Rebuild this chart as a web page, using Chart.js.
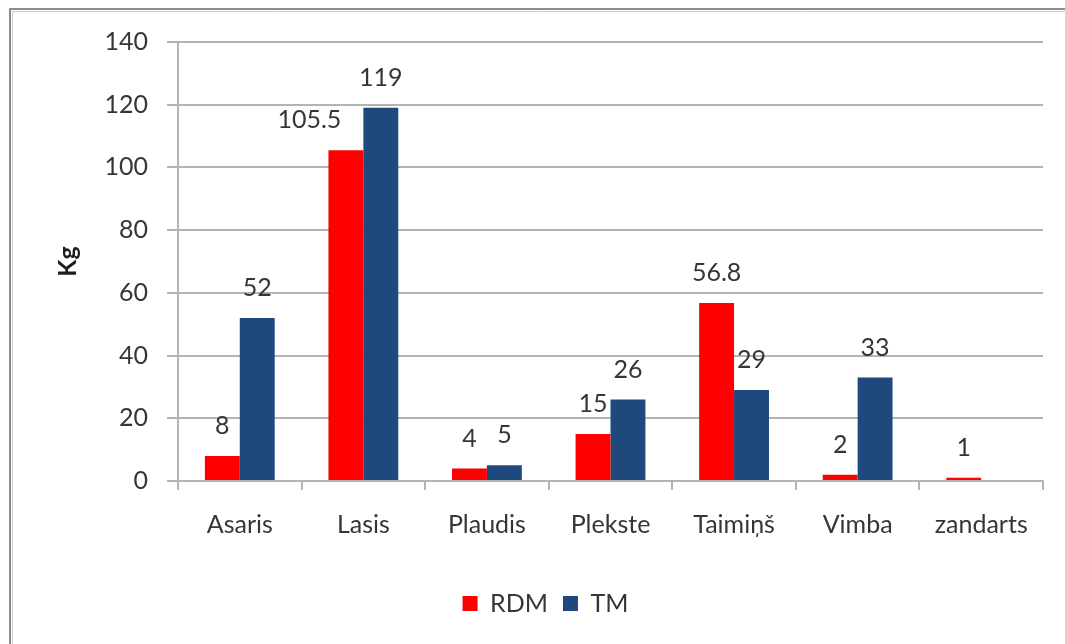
<!DOCTYPE html>
<html>
<head>
<meta charset="utf-8">
<script src="https://cdn.jsdelivr.net/npm/chart.js@4/dist/chart.umd.min.js"></script>
<style>
  html, body { margin: 0; padding: 0; background: #fff; }
  #wrap { width: 1065px; height: 644px; position: relative; }
</style>
</head>
<body>
<div id="wrap"><canvas id="c" width="1065" height="644"></canvas></div>
<script>
// Fish species
const categories = ['Asaris', 'Lasis', 'Plaudis', 'Plekste', 'Taimiņš', 'Vimba', 'zandarts'];
// Catch in kg per series
const rdmValues = [8, 105.5, 4, 15, 56.8, 2, 1];
const tmValues = [52, 119, 5, 26, 29, 33, null];
const seriesNames = ['RDM', 'TM'];
const yTicks = [0, 20, 40, 60, 80, 100, 120, 140];

const FONT = 'Lato, "Open Sans", sans-serif';
const FS = 25;
const TEXT = '#363636';
const GRID = '#b4b4b4';

// Frame around the whole chart
const framePlugin = {
  id: 'frame',
  beforeDraw(chart) {
    const ctx = chart.ctx;
    ctx.save();
    ctx.strokeStyle = '#8c8c8c';
    ctx.lineWidth = 2;
    ctx.beginPath();
    ctx.moveTo(10, chart.height + 5);
    ctx.lineTo(10, 9);
    ctx.lineTo(chart.width + 5, 9);
    ctx.stroke();
    ctx.strokeStyle = '#cfcfcf';
    ctx.lineWidth = 1;
    ctx.beginPath();
    ctx.moveTo(12.5, chart.height + 5);
    ctx.lineTo(12.5, 11.5);
    ctx.lineTo(chart.width + 5, 11.5);
    ctx.stroke();
    ctx.restore();
  }
};

// Value labels above each bar; a label that would run into the taller
// neighbouring bar is nudged to the left.
const valueLabels = {
  id: 'valueLabels',
  afterDatasetsDraw(chart) {
    const ctx = chart.ctx;
    ctx.save();
    ctx.font = FS + 'px ' + FONT;
    ctx.fillStyle = TEXT;
    ctx.textAlign = 'center';
    ctx.textBaseline = 'middle';
    const metas = chart.data.datasets.map((d, i) => chart.getDatasetMeta(i));
    chart.data.datasets.forEach((ds, di) => {
      metas[di].data.forEach((bar, i) => {
        const v = ds.data[i];
        if (v === null || v === undefined) return;
        const text = String(v);
        const w = ctx.measureText(text).width;
        let x = bar.x;
        const y = bar.y - 30;
        const next = metas[di + 1] && metas[di + 1].data[i];
        const nv = chart.data.datasets[di + 1] && chart.data.datasets[di + 1].data[i];
        if (next && nv !== null && nv !== undefined) {
          const nextLeft = next.x - next.width / 2;
          if (x + w / 2 > nextLeft && next.y < y + 12) {
            x = nextLeft - 22 - w / 2;
          }
        }
        ctx.fillText(text, x, y);
      });
    });
    ctx.restore();
  }
};

new Chart(document.getElementById('c'), {
  type: 'bar',
  data: {
    labels: categories,
    datasets: [
      { label: seriesNames[0], data: rdmValues, backgroundColor: '#ff0000' },
      { label: seriesNames[1], data: tmValues, backgroundColor: '#1f497d' }
    ]
  },
  options: {
    responsive: false,
    animation: false,
    devicePixelRatio: 1,
    categoryPercentage: 0.565,
    barPercentage: 1.0,
    layout: { padding: { left: 48, right: 22, top: 42, bottom: 18 } },
    plugins: {
      legend: {
        position: 'bottom',
        labels: {
          font: { family: FONT, size: FS },
          color: TEXT,
          boxWidth: 15,
          boxHeight: 15,
          padding: 15
        }
      },
      tooltip: { enabled: false }
    },
    scales: {
      x: {
        afterFit(scale) { scale.height = 95; },
        grid: {
          offset: true,
          drawOnChartArea: false,
          drawTicks: true,
          tickLength: 9,
          color: GRID,
          lineWidth: 2
        },
        border: { color: GRID, width: 2 },
        ticks: {
          font: { family: FONT, size: FS },
          color: TEXT,
          padding: 20,
          maxRotation: 0
        }
      },
      y: {
        min: 0,
        max: 140,
        afterBuildTicks(scale) { scale.ticks = yTicks.map(v => ({ value: v })); },
        afterFit(scale) { scale.width = 130; },
        grid: { color: GRID, lineWidth: 2, tickLength: 11 },
        border: { color: GRID, width: 2 },
        ticks: {
          font: { family: FONT, size: FS },
          color: TEXT,
          padding: 19
        },
        title: {
          display: true,
          text: 'Kg',
          font: { family: FONT, size: FS, weight: 'bold' },
          color: '#1e1e1e',
          padding: { top: 5, bottom: 0 }
        }
      }
    }
  },
  plugins: [framePlugin, valueLabels]
});
</script>
</body>
</html>
